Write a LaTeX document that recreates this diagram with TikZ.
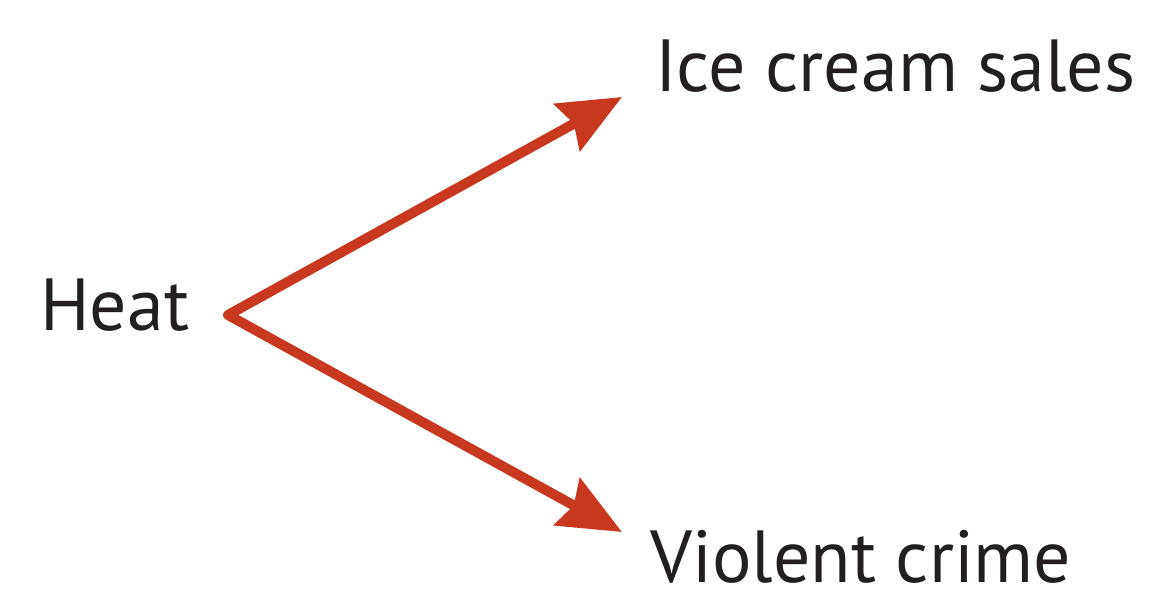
\documentclass[tikz,border=0pt]{standalone}
\usepackage{fontspec}
\setmainfont{PT Sans}
\usetikzlibrary{arrows.meta}
\definecolor{heatred}{RGB}{200,56,30}
\definecolor{textdark}{RGB}{35,31,32}
\begin{document}
\begin{tikzpicture}[x=0.02cm, y=-0.02cm, font=\fontsize{42}{46}\selectfont, line join=round, line cap=round, >={Stealth[length=1.25cm, width=1.06cm, inset=0.15cm]}]
            \useasboundingbox (0,0) rectangle (1175,607); % khung hình
            \node[anchor=base west, inner sep=0pt, text=textdark] (heat) at (40,331) {Heat};
            \node[anchor=base west, inner sep=0pt, text=textdark] (ice) at (655,92) {Ice cream sales};
            \node[anchor=base west, inner sep=0pt, text=textdark] (crime) at (650,582) {Violent crime};
            \coordinate (apex) at (228,315);
            \coordinate (iceTip) at (622,97);
            \coordinate (crimeTip) at (622,532);
            \draw[<->, heatred, line width=0.2cm] (iceTip) -- (apex) -- (crimeTip);
        \end{tikzpicture}
\end{document}
